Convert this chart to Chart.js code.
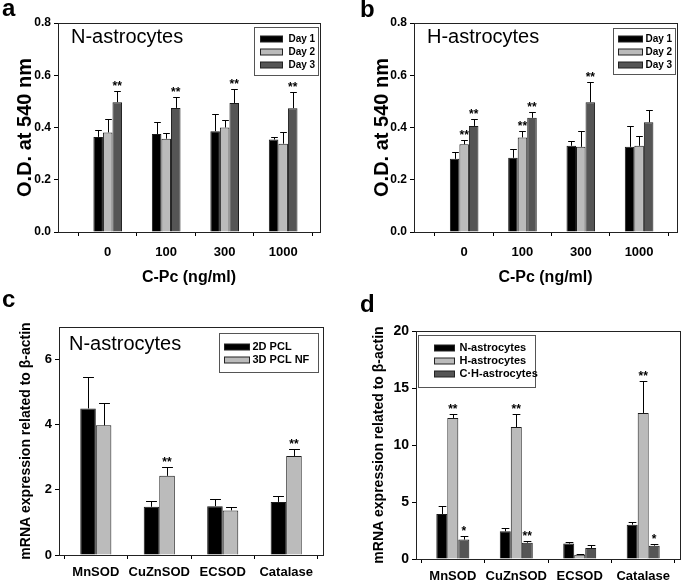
<!DOCTYPE html>
<html>
<head>
<meta charset="utf-8">
<script src="https://cdn.jsdelivr.net/npm/chart.js@4.4.1/dist/chart.umd.min.js"></script>
<style>
body{margin:0;background:#fff;}
#wrap{position:relative;width:685px;height:582px;background:#fff;overflow:hidden;}
canvas{position:absolute;}
.tag{position:absolute;font:bold 24px "Liberation Sans",Arial,sans-serif;line-height:24px;color:#000;}
</style>
</head>
<body>
<div id="wrap">
<canvas id="ca" width="340" height="290" style="left:0;top:0"></canvas>
<canvas id="cb" width="345" height="290" style="left:340px;top:0"></canvas>
<canvas id="cc" width="340" height="292" style="left:0;top:290px"></canvas>
<canvas id="cd" width="345" height="292" style="left:340px;top:290px"></canvas>
<div class="tag" style="left:2px;top:-4px">a</div>
<div class="tag" style="left:360px;top:-3px">b</div>
<div class="tag" style="left:2px;top:287px">c</div>
<div class="tag" style="left:360px;top:292px">d</div>
</div>
<script>
// ---- data ----
const doseLabels=["0","100","300","1000"];
const dayNames=["Day 1","Day 2","Day 3"];
const odTicks=[0,0.2,0.4,0.6,0.8];

// panel a, N-astrocytes (O.D. at 540 nm, upper error)
const aDay1=[0.364,0.375,0.386,0.354];
const aDay2=[0.381,0.357,0.400,0.338];
const aDay3=[0.497,0.475,0.494,0.474];
const aErr1=[0.027,0.045,0.065,0.009];
const aErr2=[0.052,0.021,0.027,0.043];
const aErr3=[0.043,0.042,0.055,0.061];
const aStars3=["**","**","**","**"];

// panel b, H-astrocytes
const bDay1=[0.280,0.284,0.330,0.326];
const bDay2=[0.336,0.362,0.326,0.330];
const bDay3=[0.406,0.437,0.497,0.420];
const bErr1=[0.027,0.034,0.018,0.079];
const bErr2=[0.017,0.024,0.059,0.037];
const bErr3=[0.028,0.022,0.079,0.046];
const bStars2=["**","**","",""];
const bStars3=["**","**","**",""];

// panel c, mRNA N-astrocytes
const genes=["MnSOD","CuZnSOD","ECSOD","Catalase"];
const cNames=["2D PCL","3D PCL NF"];
const cTicks=[0,2,4,6];
const c2D=[4.50,1.48,1.50,1.63];
const c3D=[3.98,2.43,1.37,3.04];
const cErr2D=[0.96,0.17,0.21,0.19];
const cErr3D=[0.68,0.27,0.09,0.20];
const cStars3D=["","**","","**"];

// panel d, mRNA by cell type
const dNames=["N-astrocytes","H-astrocytes","C·H-astrocytes"];
const dTicks=[0,5,10,15,20];
const dN=[3.95,2.43,1.35,3.01];
const dH=[12.37,11.58,0.38,12.81];
const dCH=[1.70,1.43,0.96,1.17];
const dErrN=[0.70,0.29,0.14,0.26];
const dErrH=[0.35,1.17,0.05,2.77];
const dErrCH=[0.35,0.18,0.30,0.18];
const dStarsH=["**","**","","**"];
const dStarsCH=["*","**","","*"];

const BLACK="#000000", LIGHT="#bbbbbb", DARK="#555555";
const FONT='"Liberation Sans", Arial, sans-serif';
Chart.defaults.font.family=FONT;
Chart.defaults.color="#000";

const extras={
  id:"extras",
  afterDatasetsDraw(chart){
    const ctx=chart.ctx, ys=chart.scales.y;
    ctx.save();
    ctx.strokeStyle="#000"; ctx.fillStyle="#000"; ctx.lineWidth=1;
    ctx.font="bold 12px "+FONT; ctx.textAlign="center"; ctx.textBaseline="alphabetic";
    chart.data.datasets.forEach((ds,di)=>{
      chart.getDatasetMeta(di).data.forEach((bar,i)=>{
        const top=Math.round(ys.getPixelForValue(ds.data[i]+ds.err[i]))+0.5;
        const x=Math.round(bar.x)+0.5, cap=bar.width*0.35;
        ctx.beginPath();
        ctx.moveTo(x,bar.y); ctx.lineTo(x,top);
        ctx.moveTo(x-cap,top); ctx.lineTo(x+cap,top);
        ctx.stroke();
        if(ds.stars && ds.stars[i]) ctx.fillText(ds.stars[i],bar.x,top-2);
      });
    });
    ctx.restore();
  },
  afterDraw(chart,args,o){
    const ctx=chart.ctx, a=chart.chartArea;
    ctx.save();
    ctx.strokeStyle="#222"; ctx.lineWidth=1;
    ctx.strokeRect(Math.round(a.left)+0.5,Math.round(a.top)+0.5,Math.round(a.right-a.left),Math.round(a.bottom-a.top));
    if(o.title){
      ctx.font=o.titleFont; ctx.fillStyle="#000"; ctx.textAlign="left"; ctx.textBaseline="middle";
      ctx.fillText(o.title,a.left+o.titleX,a.top+o.titleY);
    }
    const L=o.legend;
    const bx=Math.round(a.left+L.x)+0.5, by=Math.round(a.top+L.y)+0.5;
    ctx.fillStyle="#fff"; ctx.fillRect(bx,by,L.w,L.h);
    ctx.strokeStyle="#555"; ctx.strokeRect(bx,by,L.w,L.h);
    ctx.font=L.font; ctx.textAlign="left"; ctx.textBaseline="middle";
    chart.data.datasets.forEach((ds,i)=>{
      const ry=Math.round(by+L.row0+i*L.step);
      ctx.fillStyle=ds.backgroundColor; ctx.fillRect(bx+L.sx,ry-L.sh/2,L.sw,L.sh);
      ctx.strokeStyle="#222"; ctx.strokeRect(bx+L.sx,ry-L.sh/2,L.sw,L.sh);
      ctx.fillStyle="#000"; ctx.fillText(ds.label,bx+L.tx,ry);
    });
    ctx.restore();
  }
};

function makePanel(id,o){
  new Chart(document.getElementById(id),{
    type:"bar",
    data:{
      labels:o.cats.map((c,i)=>i),
      datasets:o.series.map(s=>({
        label:s.name,data:s.vals,err:s.err,stars:s.stars,
        backgroundColor:s.color,borderColor:"#1a1a1a",borderWidth:1,
        categoryPercentage:o.groupFrac,barPercentage:1
      }))
    },
    options:{
      responsive:false,animation:false,
      layout:{padding:o.pad},
      plugins:{legend:{display:false},tooltip:{enabled:false},extras:o.extras},
      scales:{
        x:{
          type:"linear",min:o.xMin,max:o.xMax,offset:false,
          afterBuildTicks:s=>{s.ticks=o.cats.map((c,i)=>({value:i}));},
          afterFit:s=>{s.height=o.xH;},
          grid:{drawOnChartArea:false,tickLength:4,color:"#000"},
          border:{display:false},
          ticks:{callback:v=>o.cats[v],font:{size:13,weight:"bold"},color:"#000",padding:o.xTickPad,autoSkip:false,maxRotation:0},
          title:{display:!!o.xTitle,text:o.xTitle,font:{size:16,weight:"bold"},color:"#000",padding:{top:0,bottom:3}}
        },
        y:{
          min:0,max:o.yMax,
          afterBuildTicks:s=>{s.ticks=o.yTicks.map(v=>({value:v}));},
          afterFit:s=>{s.width=o.yW;},
          grid:{drawOnChartArea:false,tickLength:4,color:"#000"},
          border:{display:false},
          ticks:{callback:o.yFmt,font:{size:o.yTickSize,weight:"bold"},color:"#000",padding:3},
          title:{display:true,text:o.yTitle,font:{size:o.yTitleSize,weight:"bold"},color:"#000",padding:{top:o.yTitlePad,bottom:0}}
        }
      }
    },
    plugins:[extras]
  });
}

makePanel("ca",{
  cats:doseLabels,xMin:-0.85,xMax:3.63,groupFrac:0.49,
  series:[
    {name:dayNames[0],vals:aDay1,err:aErr1,color:BLACK},
    {name:dayNames[1],vals:aDay2,err:aErr2,color:LIGHT},
    {name:dayNames[2],vals:aDay3,err:aErr3,color:DARK,stars:aStars3}
  ],
  pad:{left:0,top:23,right:20,bottom:0},xH:58,yW:58,xTickPad:9,xTitle:"C-Pc (ng/ml)",
  yMax:0.8,yTicks:odTicks,yFmt:v=>v.toFixed(1),yTickSize:12,
  yTitle:"O.D. at 540 nm",yTitleSize:20,yTitlePad:13,
  extras:{title:"N-astrocytes",titleFont:"20px "+FONT,titleX:13,titleY:14,
    legend:{x:196,y:4,w:64,h:48,font:"bold 10px "+FONT,row0:11,step:13,sx:6,sw:22,sh:6,tx:34}}
});

makePanel("cb",{
  cats:doseLabels,xMin:-0.86,xMax:3.65,groupFrac:0.49,
  series:[
    {name:dayNames[0],vals:bDay1,err:bErr1,color:BLACK},
    {name:dayNames[1],vals:bDay2,err:bErr2,color:LIGHT,stars:bStars2},
    {name:dayNames[2],vals:bDay3,err:bErr3,color:DARK,stars:bStars3}
  ],
  pad:{left:0,top:23,right:8,bottom:0},xH:58,yW:74,xTickPad:9,xTitle:"C-Pc (ng/ml)",
  yMax:0.8,yTicks:odTicks,yFmt:v=>v.toFixed(1),yTickSize:12,
  yTitle:"O.D. at 540 nm",yTitleSize:20,yTitlePad:30,
  extras:{title:"H-astrocytes",titleFont:"20px "+FONT,titleX:13,titleY:14,
    legend:{x:199,y:5,w:62,h:46,font:"bold 10px "+FONT,row0:10,step:13,sx:5,sw:24,sh:6,tx:32}}
});

makePanel("cc",{
  cats:genes,xMin:-0.58,xMax:3.58,groupFrac:0.49,
  series:[
    {name:cNames[0],vals:c2D,err:cErr2D,color:BLACK},
    {name:cNames[1],vals:c3D,err:cErr3D,color:LIGHT,stars:cStars3D}
  ],
  pad:{left:0,top:37,right:17,bottom:0},xH:27,yW:59,xTickPad:6,xTitle:"",
  yMax:7,yTicks:cTicks,yFmt:v=>String(v),yTickSize:13,
  yTitle:"mRNA expression related to β-actin",yTitleSize:14,yTitlePad:18,
  extras:{title:"N-astrocytes",titleFont:"20px "+FONT,titleX:10,titleY:17,
    legend:{x:160,y:6,w:99,h:39,font:"bold 11px "+FONT,row0:13,step:13,sx:5,sw:25,sh:6,tx:33}}
});

makePanel("cd",{
  cats:genes,xMin:-0.58,xMax:3.58,groupFrac:0.52,
  series:[
    {name:dNames[0],vals:dN,err:dErrN,color:BLACK},
    {name:dNames[1],vals:dH,err:dErrH,color:LIGHT,stars:dStarsH},
    {name:dNames[2],vals:dCH,err:dErrCH,color:DARK,stars:dStarsCH}
  ],
  pad:{left:0,top:41,right:5,bottom:0},xH:23,yW:76,xTickPad:6,xTitle:"",
  yMax:20,yTicks:dTicks,yFmt:v=>String(v),yTickSize:14,
  yTitle:"mRNA expression related to β-actin",yTitleSize:14,yTitlePad:31,
  extras:{title:"",
    legend:{x:2,y:4,w:117,h:52,font:"bold 11px "+FONT,row0:12,step:13,sx:16,sw:20,sh:6,tx:41}}
});
</script>
</body>
</html>
